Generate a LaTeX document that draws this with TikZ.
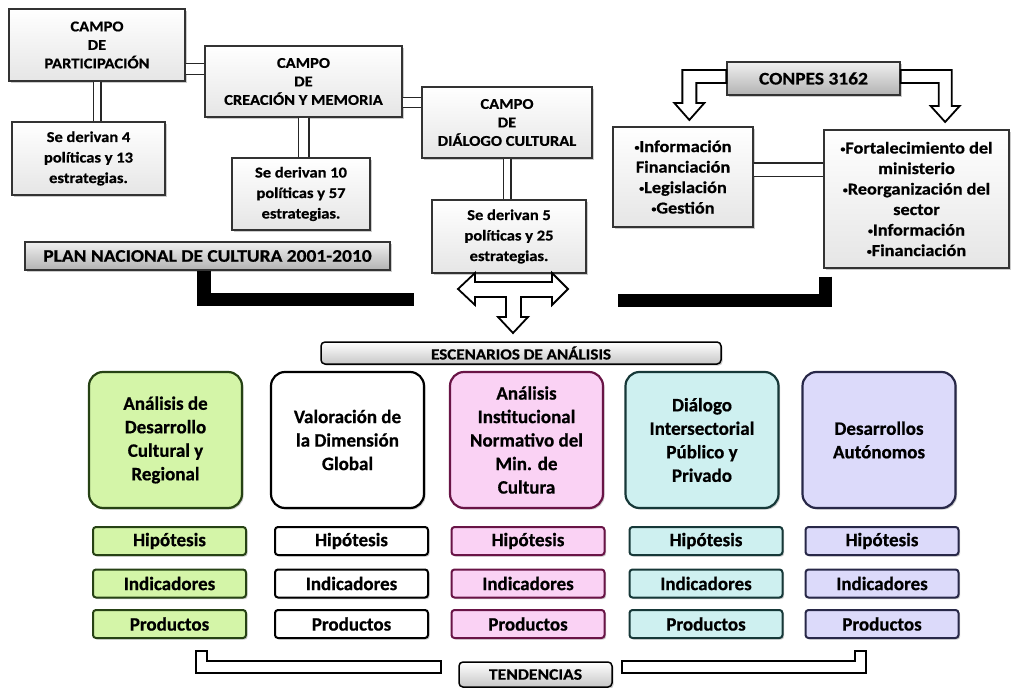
\documentclass[tikz,border=0pt]{standalone}
\usepackage{fontspec}
\setmainfont{Carlito}[BoldFeatures={FakeBold=0.6}]
\newfontfamily\widefont{Carlito}[FakeStretch=1.1, BoldFeatures={FakeBold=0.6}]
\usetikzlibrary{calc,shadows}

\definecolor{greenfill}{RGB}{212,245,168}
\definecolor{greenline}{RGB}{38,66,20}
\definecolor{pinkfill}{RGB}{250,210,244}
\definecolor{pinkline}{RGB}{105,20,70}
\definecolor{cyanfill}{RGB}{206,240,240}
\definecolor{cyanline}{RGB}{22,56,56}
\definecolor{lilacfill}{RGB}{220,218,250}
\definecolor{lilacline}{RGB}{40,40,72}

\newcommand\punto{\raisebox{1.6pt}{\fontsize{9}{9}\selectfont •}}

\tikzset{
  shade box/.style={drop shadow={shadow xshift=1.6pt, shadow yshift=-1.6pt, fill=black!40}},
  campo/.style={draw=black!80, line width=1.3pt, top color=white, bottom color=black!10, shade box,
    align=center, inner sep=0pt, font=\widefont\bfseries\fontsize{15}{18.5}\selectfont},
  derivan/.style={campo, font=\widefont\bfseries\fontsize{15}{20.5}\selectfont},
  titlebox/.style={campo, top color=black!6, bottom color=black!30, font=\widefont\bfseries\fontsize{17.7}{20}\selectfont},
  listbox/.style={campo, font=\widefont\bfseries\fontsize{16.6}{20.5}\selectfont},
  bar/.style={draw=black!85, line width=1.3pt, double=white},
  hollow/.style={draw=black, line width=1.8pt, fill=white, line join=miter},
  blackbar/.style={draw=black, line width=13.5pt},
  escenario/.style={rounded corners=14pt, line width=2.2pt, minimum width=153pt, minimum height=136pt,
    align=center, inner sep=0pt, shade box, font=\bfseries\fontsize{19}{23.5}\selectfont},
  item/.style={rounded corners=3pt, line width=2pt, minimum width=153pt, minimum height=28pt,
    inner sep=0pt, shade box, font=\bfseries\fontsize{19}{22}\selectfont},
  banner/.style={draw=black, rounded corners=4pt, line width=1.5pt, top color=white, bottom color=black!22,
    inner sep=0pt, shade box, font=\widefont\bfseries\fontsize{15.5}{17}\selectfont},
}

\begin{document}
\begin{tikzpicture}[x=1pt, y=-1pt]
\useasboundingbox (0,0) rectangle (1013,688);

% campos del plan
\node[campo, minimum width=176pt, minimum height=72pt] (c1) at (97,45) {CAMPO\\DE\\PARTICIPACIÓN};
\node[derivan, minimum width=153pt, minimum height=73pt] (s1) at (88.5,158.5) {Se derivan 4\\políticas y 13\\estrategias.};
\node[campo, minimum width=197pt, minimum height=71pt] (c2) at (303.5,81.5) {CAMPO\\DE\\CREACIÓN Y MEMORIA};
\node[derivan, minimum width=138pt, minimum height=72pt] (s2) at (301,194) {Se derivan 10\\políticas y 57\\estrategias.};
\node[campo, minimum width=170pt, minimum height=71pt] (c3) at (507,122.5) {CAMPO\\DE\\DIÁLOGO CULTURAL};
\node[derivan, minimum width=154pt, minimum height=73pt] (s3) at (509,236.5) {Se derivan 5\\políticas y 25\\estrategias.};
\node[titlebox, minimum width=365pt, minimum height=28pt] (plan) at (207.5,256) {PLAN NACIONAL DE CULTURA 2001-2010};

\draw[bar, double distance=6.4pt] (c1.south) -- (c1.south |- s1.north);
\draw[bar, double distance=9.4pt] (c2.south) -- (c2.south |- s2.north);
\draw[bar, double distance=6.4pt] (c3.south) -- (c3.south |- s3.north);
\draw[bar, double distance=9.4pt] ($(c1.east)+(0,24)$) -- ($(c2.west)+(0,-12.5)$);
\draw[bar, double distance=8.4pt] ($(c2.east)+(0,21)$) -- ($(c3.west)+(0,-20)$);

% conpes
\node[titlebox, minimum width=173pt, minimum height=33pt] (cp) at (813.5,78.5) {CONPES 3162};
\node[listbox, minimum width=140pt, minimum height=100pt] (l1) at (683,177) {\punto Información\\Financiación\\\punto Legislación\\\punto Gestión};
\node[listbox, minimum width=185pt, minimum height=138pt] (r1) at (916.5,199) {\punto Fortalecimiento del\\ministerio\\\punto Reorganización del\\sector\\\punto Información\\\punto Financiación};

\draw[bar, double distance=12pt] ($(l1.east)+(0,-7.5)$) -- ($(r1.west)+(0,-29.5)$);
\draw[hollow] ($(cp.west)+(0,-8.5)$) -- ++(-44,0) -- ++(0,33) -- ++(-8,0) -- ++(15,17) -- ++(15,-17)
  -- ++(-8,0) -- ++(0,-20) -- ($(cp.west)+(0,4.5)$) -- cycle;
\draw[hollow] ($(cp.east)+(0,-8.5)$) -- ++(51,0) -- ++(0,36) -- ++(8,0) -- ++(-14.5,16) -- ++(-14.5,-16)
  -- ++(8,0) -- ++(0,-23) -- ($(cp.east)+(0,4.5)$) -- cycle;

% barras negras
\coordinate (lbar) at (204,299.5);
\coordinate (lend) at (414,299.5);
\coordinate (rbar) at (825.5,300.5);
\coordinate (rend) at (618,300.5);
\draw[blackbar] (plan.south -| lbar) -- (lbar) -- (lend);
\draw[blackbar] ($(r1.south -| rbar)+(0,8)$) -- (rbar) -- (rend);

% escenarios
\node[banner, minimum width=400pt, minimum height=22pt] (esc) at (521,353) {ESCENARIOS DE ANÁLISIS};
\coordinate (tarrow) at (513,289);
\draw[hollow] ($(tarrow)+(-55,0)$) -- ++(17,-16) -- ++(0,9) -- ++(77,0) -- ++(0,-9) -- ++(16,16)
  -- ++(-16,16) -- ++(0,-8) -- ++(-31,0) -- ++(0,20) -- ++(7,0) -- ++(-15,16) -- ++(-15,-16)
  -- ++(8,0) -- ++(0,-20) -- ++(-31,0) -- ++(0,8) -- cycle;

\node[escenario, draw=greenline, fill=greenfill] (e1) at (165.5,440) {Análisis de\\Desarrollo\\Cultural y\\Regional};
\node[escenario, draw=black, fill=white] (e2) at (347.5,440) {Valoración de\\la Dimensión\\Global};
\node[escenario, draw=pinkline, fill=pinkfill] (e3) at (526.5,440) {Análisis\\Institucional\\Normativo del\\Min. de\\Cultura};
\node[escenario, draw=cyanline, fill=cyanfill] (e4) at (702,440) {Diálogo\\Intersectorial\\Público y\\Privado};
\node[escenario, draw=lilacline, fill=lilacfill] (e5) at (879,440) {Desarrollos\\Autónomos};

\foreach \n/\x/\f/\d in {1/169.5/greenfill/greenline, 2/351.5/white/black, 3/528/pinkfill/pinkline,
    4/706/cyanfill/cyanline, 5/882/lilacfill/lilacline}{
  \node[item, fill=\f, draw=\d] (hip\n) at (\x,541) {Hipótesis};
  \node[item, fill=\f, draw=\d] (ind\n) at (\x,583.5) {Indicadores};
  \node[item, fill=\f, draw=\d] (pro\n) at (\x,624) {Productos};
}

% tendencias
\node[banner, minimum width=153pt, minimum height=25pt, font=\widefont\bfseries\fontsize{16}{17}\selectfont] (tend) at (535.5,674.5) {TENDENCIAS};
\draw[hollow, line width=1.6pt] (196,651) -- (207,651) -- (207,661) -- (441,661) -- (441,673) -- (196,673) -- cycle;
\draw[hollow, line width=1.6pt] (866,651) -- (855,651) -- (855,661) -- (622,661) -- (622,673) -- (866,673) -- cycle;

\end{tikzpicture}
\end{document}
